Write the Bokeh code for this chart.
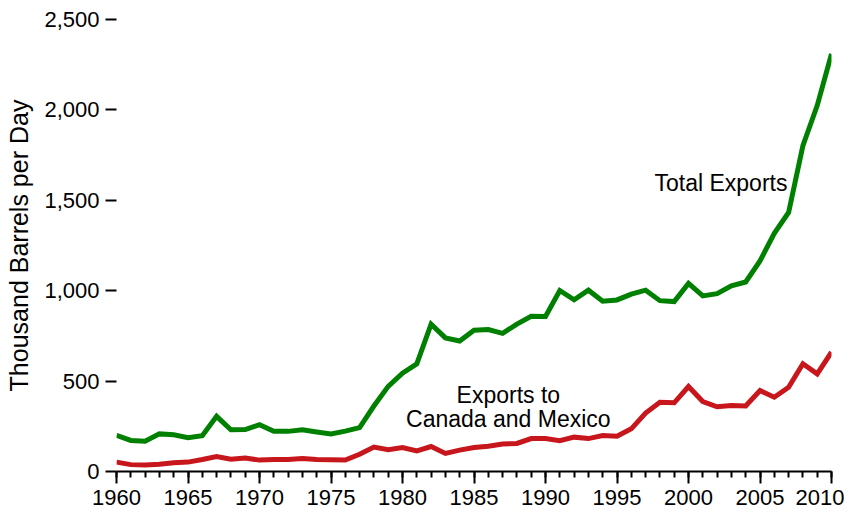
from bokeh.plotting import figure
from bokeh.models import Range1d, SingleIntervalTicker, NumeralTickFormatter
from bokeh.core.properties import value
from bokeh.embed import file_html
from bokeh.resources import INLINE

years = list(range(1960, 2011))
total_exports = [200, 172, 167, 208, 203, 187, 198, 305, 231, 232, 259, 223, 222, 231, 219, 208,
                 223, 243, 362, 471, 544, 595, 815, 739, 722, 781, 785, 764, 815, 859,
                 857, 1001, 950, 1003, 942, 949, 981, 1003, 945, 940, 1040, 971, 984, 1027,
                 1048, 1165, 1317, 1433, 1802, 2024, 2310]
canada_mexico = [52, 38, 36, 40, 48, 52, 66, 83, 68, 74, 63, 66, 67, 72, 67, 65, 63, 95, 135, 120,
                 133, 114, 138, 100, 118, 133, 140, 152, 155, 182, 182, 170, 190, 182, 199,
                 195, 236, 323, 383, 380, 470, 387, 358, 365, 362, 448, 411, 466, 596, 540, 660]

label_total = "Total Exports"
label_cm_1 = "Exports to"
label_cm_2 = "Canada and Mexico"

FONT = "Liberation Sans"

p = figure(width=844, height=510, output_backend="svg", toolbar_location=None,
           x_range=Range1d(1960, 2010), y_range=Range1d(0, 2500),
           min_border_left=116, min_border_right=13, min_border_top=19, min_border_bottom=39)
p.outline_line_color = None
p.grid.grid_line_color = None
p.background_fill_color = "white"
p.border_fill_color = "white"

p.line(years, total_exports, line_color="#008000", line_width=5, line_join="miter")
p.line(years, canada_mexico, line_color="#C8161D", line_width=5, line_join="miter")

p.text(x=[2006.92], y=[1596], text=[label_total], text_align="right", text_baseline="alphabetic",
       text_font=value(FONT), text_font_size="23px", text_color="black")
p.text(x=[1987.4, 1987.4], y=[424, 291], text=[label_cm_1, label_cm_2], text_align="center",
       text_baseline="alphabetic", text_font=value(FONT), text_font_size="23px", text_color="black")

xa = p.xaxis[0]
xa.ticker = SingleIntervalTicker(interval=5, num_minor_ticks=5)
xa.axis_line_color = "black"
xa.axis_line_width = 2
xa.major_tick_line_color = "black"
xa.major_tick_line_width = 2
xa.major_tick_in = 0
xa.major_tick_out = 12
xa.minor_tick_line_color = "black"
xa.minor_tick_line_width = 2
xa.minor_tick_in = 0
xa.minor_tick_out = 6
xa.major_label_text_font = FONT
xa.major_label_text_font_size = "22px"
xa.major_label_text_color = "black"
xa.major_label_standoff = 6

ya = p.yaxis[0]
ya.ticker = SingleIntervalTicker(interval=500, num_minor_ticks=0)
ya.formatter = NumeralTickFormatter(format="0,0")
ya.axis_line_color = None
ya.major_tick_line_color = "black"
ya.major_tick_line_width = 2
ya.major_tick_in = 0
ya.major_tick_out = 11
ya.minor_tick_line_color = None
ya.major_label_text_font = FONT
ya.major_label_text_font_size = "22px"
ya.major_label_text_color = "black"
ya.major_label_standoff = 6
ya.axis_label = "Thousand Barrels per Day"
ya.axis_label_text_font = FONT
ya.axis_label_text_font_size = "25px"
ya.axis_label_text_font_style = "normal"
ya.axis_label_text_color = "black"
ya.axis_label_standoff = 8

open("out.html", "w").write(file_html(p, INLINE))
